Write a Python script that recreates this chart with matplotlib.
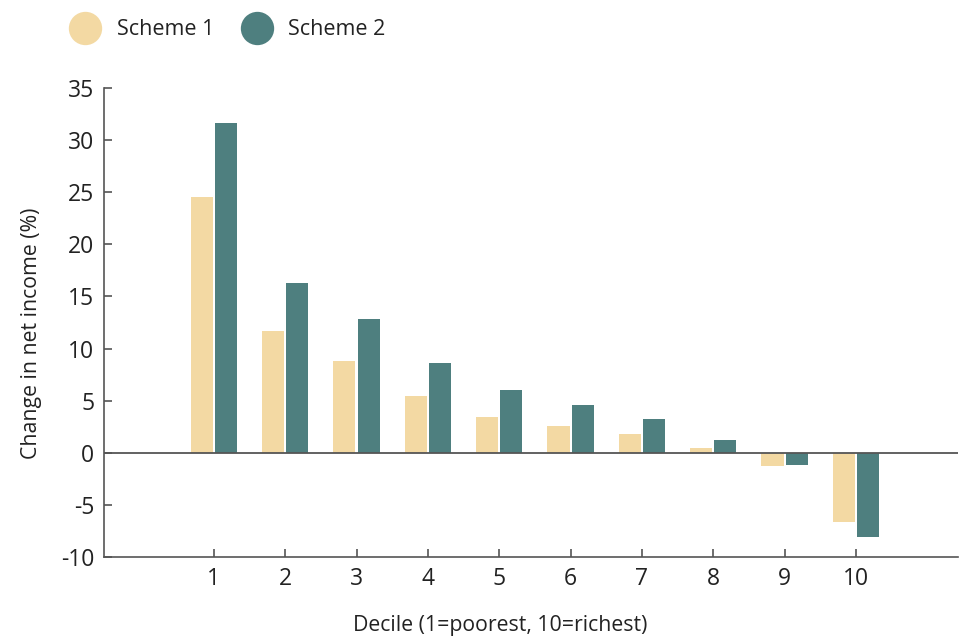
import matplotlib
matplotlib.use("Agg")
import matplotlib.pyplot as plt
from matplotlib.lines import Line2D
import numpy as np

plt.rcParams['font.family'] = ['Open Sans', 'DejaVu Sans']

deciles = [1, 2, 3, 4, 5, 6, 7, 8, 9, 10]
scheme1 = [24.5, 11.7, 8.8, 5.4, 3.4, 2.6, 1.8, 0.5, -1.3, -6.6]
scheme2 = [31.6, 16.3, 12.8, 8.6, 6.0, 4.6, 3.2, 1.2, -1.2, -8.1]
series_names = ["Scheme 1", "Scheme 2"]
colors = ["#F3D9A3", "#4E7F7F"]
yticks = [-10, -5, 0, 5, 10, 15, 20, 25, 30, 35]

fig = plt.figure(figsize=(9.6, 6.41), dpi=100)
ax = fig.add_axes([104/960, 1-557/641, (958-104)/960, (557-88)/641])

x = np.array(deciles, dtype=float)
w = 0.31
ax.bar(x - 0.17, scheme1, width=w, color=colors[0], zorder=2)
ax.bar(x + 0.17, scheme2, width=w, color=colors[1], zorder=2)
ax.axhline(0, color="#555555", lw=1.3, zorder=3)

ax.set_xlim(-0.54, 11.43)
ax.set_ylim(-10, 35)
ax.set_xticks(deciles)
ax.set_xticklabels([str(d) for d in deciles])
ax.set_yticks(yticks)
ax.set_yticklabels([str(t) for t in yticks])

for s in ["top", "right"]:
    ax.spines[s].set_visible(False)
for s in ["left", "bottom"]:
    ax.spines[s].set_color("#555555")
    ax.spines[s].set_linewidth(1.2)

ax.tick_params(axis="both", direction="in", length=6, width=1.2, color="#555555",
               labelsize=16.5, labelcolor="#222222")
ax.tick_params(axis="x", pad=7)
ax.tick_params(axis="y", pad=7)

ax.set_ylabel("Change in net income (%)", fontsize=15.3, color="#222222")
ax.yaxis.set_label_coords(-0.073, 0.478)
fig.text(500/960, 1-625/641, "Decile (1=poorest, 10=richest)", fontsize=15.3,
         color="#222222", ha="center", va="center")

handles = [Line2D([0], [0], marker="o", color="none", markerfacecolor=c,
                  markeredgecolor="none", markersize=24) for c in colors]
fig.legend(handles, series_names, loc="upper left", bbox_to_anchor=(53/960, 1-0/641),
           ncol=2, frameon=False, fontsize=15.5, handlelength=1.2, handletextpad=0.85,
           columnspacing=1.4, labelcolor="#222222")

fig.savefig("out.png", dpi=100)
